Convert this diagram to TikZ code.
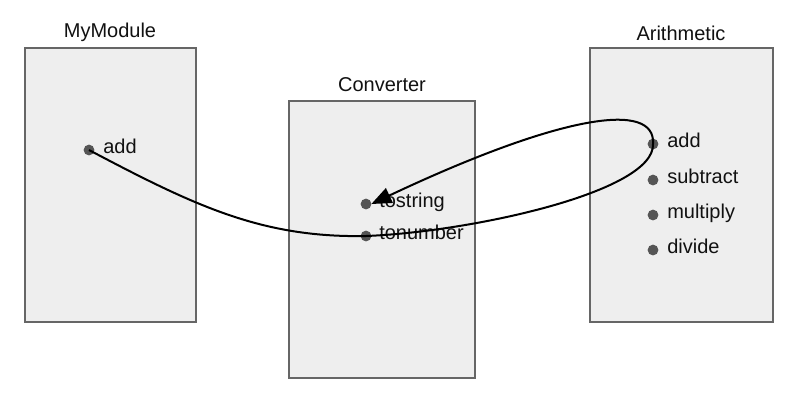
\documentclass[tikz,border=0pt]{standalone}
\usepackage{fontspec}
\setmainfont{Liberation Sans}
\usetikzlibrary{arrows.meta}
\definecolor{boxfill}{HTML}{EEEEEE}
\definecolor{boxline}{HTML}{666666}
\definecolor{dotcol}{HTML}{555555}
\definecolor{txt}{HTML}{111111}
\tikzset{
  modbox/.style={draw=boxline, line width=1.5pt, fill=boxfill},
  pin/.style={circle, fill=dotcol, draw=dotcol, line width=1pt, inner sep=0pt, minimum size=7pt},
  lbl/.style={anchor=mid west, inner sep=0pt, text=txt, font=\fontsize{15}{18}\selectfont},
  ttl/.style={anchor=base, inner sep=0pt, text=txt, font=\fontsize{15}{18}\selectfont},
  wire/.style={line width=1.5pt, black},
  arr/.style={wire, -{Triangle[length=15pt, width=12pt]}}
}
\begin{document}
\begin{tikzpicture}[x=0.75pt, y=-0.75pt]
\useasboundingbox (0,0) rectangle (802,408);
% boxes
\draw[modbox] (25,48) rectangle (196,322);
\draw[modbox] (289,101) rectangle (475,378);
\draw[modbox] (590,48) rectangle (773,322);
% titles
\node[ttl] (t-my) at (110,37) {MyModule};
\node[ttl] (t-cv) at (382,91) {Converter};
\node[ttl] (t-ar) at (681,40) {Arithmetic};
% pins
\node[pin] (m-add) at (89,150) {};
\node[lbl] (m-add-l) at (103,150) {add};
\node[pin] (c-tos) at (366,204) {};
\node[lbl] (c-tos-l) at (379,204) {tostring};
\node[pin] (c-ton) at (366,236) {};
\node[lbl] (c-ton-l) at (379,236) {tonumber};
\node[pin] (a-add) at (653,144) {};
\node[lbl] (a-add-l) at (667,144) {add};
\node[pin] (a-sub) at (653,180) {};
\node[lbl] (a-sub-l) at (667,180) {subtract};
\node[pin] (a-mul) at (653,215) {};
\node[lbl] (a-mul-l) at (667,215) {multiply};
\node[pin] (a-div) at (653,250) {};
\node[lbl] (a-div-l) at (667,250) {divide};
% connectors
\draw[wire] (m-add.center) .. controls (195,206) and (262,238) .. (c-ton.center)
  .. controls (470,232) and (655,192) .. (a-add.center);
\draw[arr] (a-add.center) .. controls (656,100) and (560,115) .. (c-tos.east);
\end{tikzpicture}
\end{document}
